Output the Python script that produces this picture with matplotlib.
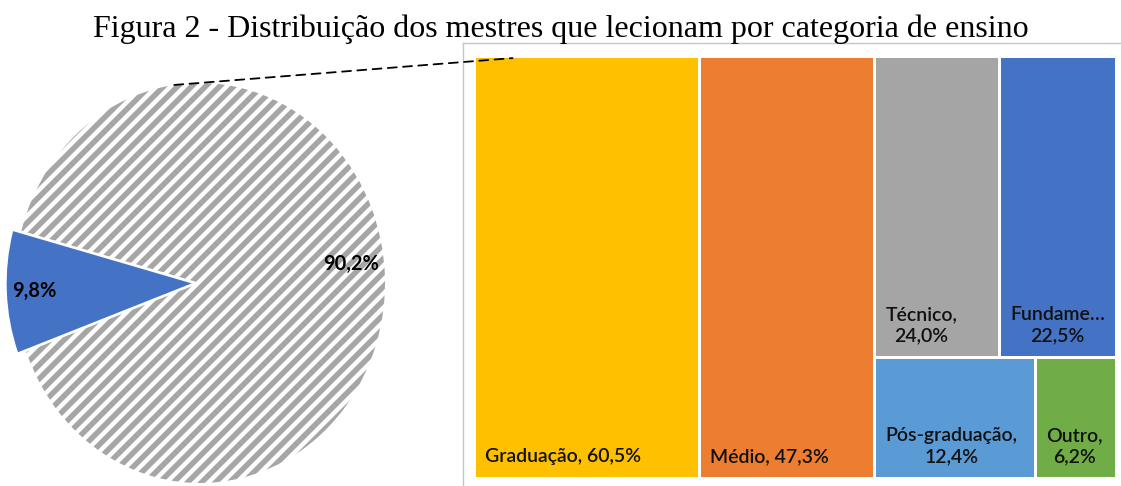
import matplotlib
matplotlib.use("Agg")
import numpy as np
import matplotlib.pyplot as plt
from matplotlib.patches import Rectangle, ConnectionPatch

# dados
titulo = "Figura 2 - Distribuição dos mestres que lecionam por categoria de ensino"
pie_vals = [90.2, 9.8]
pie_cores = ["white", "#4472C4"]
pie_labels = ["90,2%", "9,8%"]

cats = ["Graduação", "Médio", "Técnico", "Fundamental", "Pós-graduação", "Outro"]
vals = [60.5, 47.3, 24.0, 22.5, 12.4, 6.2]
cores = ["#FFC000", "#ED7D31", "#A5A5A5", "#4472C4", "#5B9BD5", "#70AD47"]
rotulos = ["Graduação, 60,5%", "Médio, 47,3%", "Técnico,\n24,0%", "Fundame…\n22,5%",
           "Pós-graduação,\n12,4%", "Outro,\n6,2%"]
# agrupamento do treemap (colunas -> linhas -> itens)
grupos = [[0], [1], [[2, 3], [4, 5]]]

DPI = 84
W, H = 1121, 486
fig = plt.figure(figsize=(W / DPI, H / DPI), dpi=DPI)

def px(v):
    return v * 72 / DPI

fonte = ['Lato', 'DejaVu Sans']

# titulo
fig.text(0.5, 1 - 37 / H, titulo, ha='center', va='baseline',
         family='Liberation Serif', fontsize=px(32))

# moldura do grafico da direita
axf = fig.add_axes([463 / W, -0.01, 1 - 463 / W + 0.01, 1 - 43 / H + 0.01])
axf.set_xticks([])
axf.set_yticks([])
for s in axf.spines.values():
    s.set_color('#c6c6c6')
    s.set_linewidth(1.2)
axf.patch.set_alpha(0)

# pizza
cx, cy, rx, ry = 200, 283, 185, 200
lim = 1.12
axp = fig.add_axes([(cx - rx * lim) / W, (H - cy - ry * lim) / H,
                    2 * rx * lim / W, 2 * ry * lim / H])
wedges, _ = axp.pie(pie_vals, colors=pie_cores, startangle=200.14,
                    explode=[0, 0.045], counterclock=True,
                    wedgeprops=dict(linewidth=0))
axp.set_aspect('auto')
axp.set_xlim(-lim, lim)
axp.set_ylim(-lim, lim)
axp.axis('off')

# listras diagonais na fatia cinza (45 graus em pixels)
passo = 14.0 / rx
for k in np.arange(-3.0, 3.0, passo):
    t = np.array([-2.0, 2.0])
    ln, = axp.plot(k + t, t * rx / ry, color='#a6a6a6', linewidth=px(5.5),
                   solid_capstyle='butt')
    ln.set_clip_path(wedges[0])

dist = [0.82, 0.85]
desloc = [4.0, 0.0]
for w, lab, d, da in zip(wedges, pie_labels, dist, desloc):
    ang = np.deg2rad((w.theta1 + w.theta2) / 2 + da)
    c = w.center
    axp.text(c[0] + d * np.cos(ang), c[1] + d * np.sin(ang), lab,
             ha='center', va='center', fontsize=px(20), fontweight='bold',
             family=fonte, color='black', zorder=5)

# treemap
x0, x1, y0, y1 = 474, 1116, 56, 478
axt = fig.add_axes([x0 / W, (H - y1) / H, (x1 - x0) / W, (y1 - y0) / H])
axt.set_xlim(0, 1)
axt.set_ylim(0, 1)
axt.axis('off')

total = sum(vals)
def soma(g):
    if isinstance(g, list):
        return sum(soma(i) for i in g)
    return vals[g]

retangulos = {}
x = 0.0
for col in grupos:
    wcol = soma(col) / total
    if isinstance(col[0], list):
        y = 1.0
        for linha in col:
            hl = soma(linha) / soma(col)
            xx = x
            for i in linha:
                wi = wcol * vals[i] / soma(linha)
                retangulos[i] = (xx, y - hl, wi, hl)
                xx += wi
            y -= hl
    else:
        retangulos[col[0]] = (x, 0.0, wcol, 1.0)
    x += wcol

for i in range(len(vals)):
    rx0, ry0, rw, rh = retangulos[i]
    axt.add_patch(Rectangle((rx0, ry0), rw, rh, facecolor=cores[i],
                            edgecolor='white', linewidth=px(3)))
    axt.annotate(rotulos[i], (rx0, ry0), xytext=(px(11), px(13)),
                 textcoords='offset points', ha='left', va='bottom',
                 multialignment='center', fontsize=px(19.5), family=fonte,
                 fontweight='semibold', color='#111111', linespacing=1.3)

# linha tracejada ligando a pizza ao treemap
ang = np.deg2rad(98)
con = ConnectionPatch(xyA=(np.cos(ang), np.sin(ang)), coordsA=axp.transData,
                      xyB=(0.06, 0.995), coordsB=axt.transData,
                      linestyle=(0, (5, 3.5)), color='black', linewidth=px(1.8))
fig.add_artist(con)

fig.savefig("out.png", dpi=DPI)
